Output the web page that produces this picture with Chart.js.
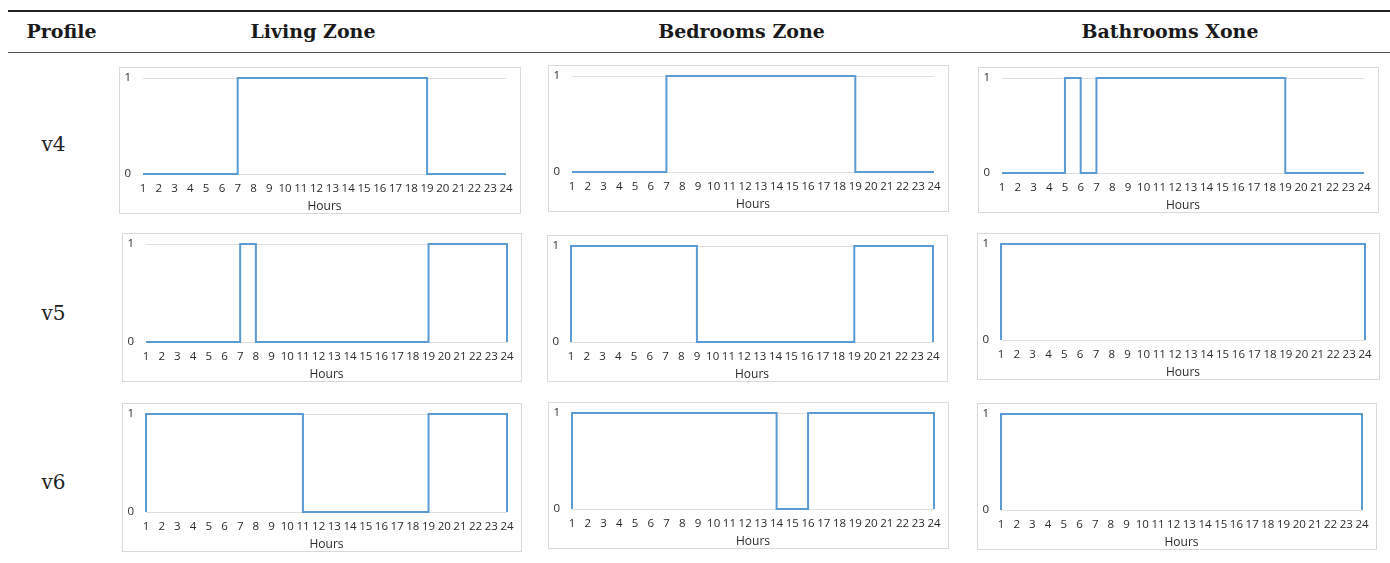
<!DOCTYPE html>
<html>
<head>
<meta charset="utf-8">
<script src="https://cdn.jsdelivr.net/npm/chart.js@4.4.0/dist/chart.umd.min.js"></script>
<style>
  html, body { margin: 0; padding: 0; background: #fff; }
  #page { position: relative; width: 1390px; height: 563px; overflow: hidden; background: #fff; }
  .rule { position: absolute; left: 8px; right: 0; }
  .head { position: absolute; top: 20px; font: bold 19px "DejaVu Serif", serif; color: #1a1a1a; transform: translateX(-50%); white-space: nowrap; }
  .rowlab { position: absolute; font: 20px "DejaVu Serif", serif; color: #222; transform: translate(-50%, -50%); }
  .cell { position: absolute; }
  .cell .frame { position: absolute; left: 0; top: 0; right: 0; bottom: 0; border: 1px solid #d9d9d9; box-sizing: border-box; }
  .cell canvas { position: absolute; left: 0; top: 0; }
</style>
</head>
<body>
<div id="page">
  <div class="rule" style="top:10px;height:2px;background:#222;"></div>
  <div class="rule" style="top:52px;height:1px;background:#555;"></div>
</div>
<script>
// ---- data ----
const hours = [1,2,3,4,5,6,7,8,9,10,11,12,13,14,15,16,17,18,19,20,21,22,23,24];
const zones = ["Living Zone", "Bedrooms Zone", "Bathrooms Xone"];
const profiles = ["v4", "v5", "v6"];
const yTicks = [0, 1];
const xTitle = "Hours";

// state holding from each hour to the next (last entry = state at hour 24)
const livingV4    = [0,0,0,0,0,0,1,1,1,1,1,1,1,1,1,1,1,1,0,0,0,0,0,0];
const bedroomsV4  = [0,0,0,0,0,0,1,1,1,1,1,1,1,1,1,1,1,1,0,0,0,0,0,0];
const bathroomsV4 = [0,0,0,0,1,0,1,1,1,1,1,1,1,1,1,1,1,1,0,0,0,0,0,0];
const livingV5    = [0,0,0,0,0,0,1,0,0,0,0,0,0,0,0,0,0,0,1,1,1,1,1,1];
const bedroomsV5  = [1,1,1,1,1,1,1,1,0,0,0,0,0,0,0,0,0,0,1,1,1,1,1,1];
const bathroomsV5 = [1,1,1,1,1,1,1,1,1,1,1,1,1,1,1,1,1,1,1,1,1,1,1,1];
const livingV6    = [1,1,1,1,1,1,1,1,1,1,0,0,0,0,0,0,0,0,1,1,1,1,1,1];
const bedroomsV6  = [1,1,1,1,1,1,1,1,1,1,1,1,1,0,0,1,1,1,1,1,1,1,1,1];
const bathroomsV6 = [1,1,1,1,1,1,1,1,1,1,1,1,1,1,1,1,1,1,1,1,1,1,1,1];

const grid = [
  [livingV4, bedroomsV4, bathroomsV4],
  [livingV5, bedroomsV5, bathroomsV5],
  [livingV6, bedroomsV6, bathroomsV6]
];

// ---- layout (positions only) ----
const headX = [61.5, 313, 741.5, 1170];
const rowY = [143.5, 312.5, 482];
const boxes = [
  [[119, 67, 402, 147], [548, 65, 401, 147], [978, 67, 401, 146]],
  [[122, 233, 400, 149], [547, 235, 401, 147], [977, 233, 403, 147]],
  [[122, 403, 400, 149], [548, 402, 401, 147], [977, 403, 400, 147]]
];

const page = document.getElementById('page');
["Profile"].concat(zones).forEach((t, i) => {
  const d = document.createElement('div');
  d.className = 'head';
  d.style.left = headX[i] + 'px';
  d.textContent = t;
  page.appendChild(d);
});
profiles.forEach((p, r) => {
  const d = document.createElement('div');
  d.className = 'rowlab';
  d.style.left = '53.5px';
  d.style.top = rowY[r] + 'px';
  d.textContent = p;
  page.appendChild(d);
});

const tickFont = { family: "'Open Sans', 'Liberation Sans', sans-serif", size: 11.5 };

function makeChart(series, box) {
  const [x, y, w, h] = box;
  const cell = document.createElement('div');
  cell.className = 'cell';
  cell.style.left = x + 'px'; cell.style.top = y + 'px';
  cell.style.width = w + 'px'; cell.style.height = h + 'px';
  const frame = document.createElement('div');
  frame.className = 'frame';
  const cv = document.createElement('canvas');
  cv.width = w; cv.height = h;
  cell.appendChild(cv);
  cell.appendChild(frame);
  page.appendChild(cell);

  const pts = [{ x: hours[0], y: 0 }]
    .concat(hours.map((hr, i) => ({ x: hr, y: series[i] })))
    .concat([{ x: hours[hours.length - 1], y: 0 }]);

  new Chart(cv, {
    type: 'line',
    data: {
      datasets: [{
        data: pts,
        stepped: true,
        borderColor: '#5b9bd5',
        borderWidth: 2,
        pointRadius: 0,
        fill: false,
        clip: 4
      }]
    },
    options: {
      responsive: false,
      animation: false,
      devicePixelRatio: 1,
      layout: { padding: { left: 0, right: 15, top: 11, bottom: 0 } },
      plugins: { legend: { display: false }, tooltip: { enabled: false } },
      scales: {
        x: {
          type: 'linear',
          min: hours[0], max: hours[hours.length - 1],
          afterBuildTicks: s => { s.ticks = hours.map(v => ({ value: v })); },
          afterFit: s => { s.height = 40; },
          grid: { display: false, drawTicks: false },
          border: { display: false },
          ticks: { autoSkip: false, maxRotation: 0, padding: 8, color: '#2b2b2b', font: tickFont },
          title: { display: true, text: xTitle, color: '#2b2b2b', padding: { top: 0, bottom: 0 },
                   font: { family: "'Open Sans', 'Liberation Sans', sans-serif", size: 12 } }
        },
        y: {
          min: yTicks[0], max: yTicks[yTicks.length - 1],
          afterBuildTicks: s => { s.ticks = yTicks.map(v => ({ value: v })); },
          afterFit: s => { s.width = 24; s.paddingTop = 0; s.paddingBottom = 0; },
          grid: { color: '#dedede', lineWidth: 1, drawTicks: false },
          border: { display: false },
          ticks: { padding: 12, color: '#2b2b2b', font: tickFont }
        }
      }
    }
  });
}

grid.forEach((row, r) => row.forEach((series, c) => makeChart(series, boxes[r][c])));
</script>
</body>
</html>
